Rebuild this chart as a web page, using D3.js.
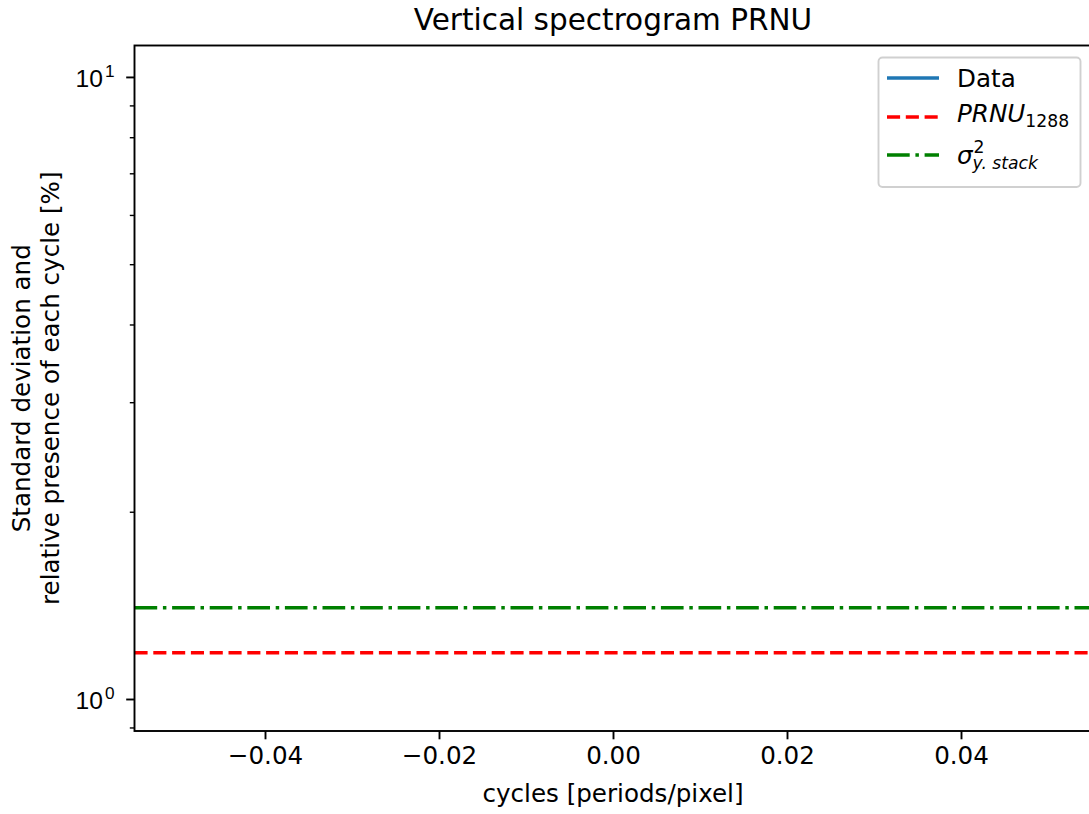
<!DOCTYPE html>
<html><head><meta charset="utf-8">
<script src="https://cdn.jsdelivr.net/npm/d3@7"></script>
<style>
html,body{margin:0;padding:0;background:#fff;}
svg{display:block;font-family:"DejaVu Sans",sans-serif;}
</style></head>
<body>
<script>
// ---- data ----
const xDomain = [-0.055, 0.055];
const yDomain = [0.8883, 11.234];
const xTicks = [-0.04, -0.02, 0.00, 0.02, 0.04];
const xTickLabels = ["\u22120.04", "\u22120.02", "0.00", "0.02", "0.04"];
const yMajorTicks = [1, 10];
const yMajorExp = ["0", "1"];
const yMinorTicks = [0.9, 2, 3, 4, 5, 6, 7, 8, 9];
const dataX = [];          // "Data" series: nothing visible in the plot
const dataY = [];
const prnuLevel = 1.187;   // PRNU_1288
const sigmaLevel = 1.402;  // sigma^2_y.stack

const W = 1089, H = 814;
const m = {left: 134.5, top: 45.5, right: 1091.5, bottom: 731};
const svg = d3.select("body").append("svg").attr("width", W).attr("height", H);

const x = d3.scaleLinear().domain(xDomain).range([m.left, m.right]);
const y = d3.scaleLog().domain(yDomain).range([m.bottom, m.top]);

svg.append("defs").append("clipPath").attr("id","clip")
  .append("rect").attr("x", m.left).attr("y", m.top).attr("width", m.right-m.left).attr("height", m.bottom-m.top);

const plot = svg.append("g").attr("clip-path","url(#clip)");
const line = d3.line().x(d=>x(d[0])).y(d=>y(d[1]));

plot.append("path").datum(dataX.map((v,i)=>[v,dataY[i]]))
  .attr("d", line).attr("fill","none").attr("stroke","#1f77b4").attr("stroke-width",3.5);
plot.append("path").datum([[xDomain[0],prnuLevel],[xDomain[1],prnuLevel]])
  .attr("d", line).attr("fill","none").attr("stroke","#ff0000").attr("stroke-width",3.5)
  .attr("stroke-dasharray","13.1,5.7");
plot.append("path").datum([[xDomain[0],sigmaLevel],[xDomain[1],sigmaLevel]])
  .attr("d", line).attr("fill","none").attr("stroke","#008000").attr("stroke-width",3.5)
  .attr("stroke-dasharray","22.7,5.7,3.5,5.7");

// axes
const fs = 24.6;
const xAxis = d3.axisBottom(x).tickValues(xTicks).tickSize(8.3).tickPadding(7)
  .tickFormat((d,i)=>xTickLabels[i]);
const gx = svg.append("g").attr("transform",`translate(0,${m.bottom})`).call(xAxis);
gx.select(".domain").remove();
gx.selectAll(".tick line").attr("stroke","#000").attr("stroke-width",1.9);
gx.selectAll(".tick text").attr("font-size",fs).attr("fill","#000").attr("font-family","DejaVu Sans");

const gy = svg.append("g").attr("transform",`translate(${m.left},0)`);
gy.call(d3.axisLeft(y).tickValues(yMinorTicks).tickSize(4.7).tickFormat(""));
gy.selectAll(".tick line").attr("stroke","#000").attr("stroke-width",1.4);
const gy2 = svg.append("g").attr("transform",`translate(${m.left},0)`)
  .call(d3.axisLeft(y).tickValues(yMajorTicks).tickSize(8.3).tickFormat(""));
gy2.selectAll(".tick line").attr("stroke","#000").attr("stroke-width",1.9);
gy.select(".domain").remove(); gy2.select(".domain").remove();
gy2.selectAll(".tick").each(function(d,i){
  const t = d3.select(this).append("text").attr("x",-20).attr("y",9.5)
    .attr("text-anchor","end").attr("font-size",fs).attr("fill","#000");
  t.append("tspan").text("10");
  t.append("tspan").attr("dx",2).attr("dy",-10).attr("font-size",fs*0.7).text(yMajorExp[i]);
});

// frame
svg.append("rect").attr("x",m.left).attr("y",m.top).attr("width",m.right-m.left).attr("height",m.bottom-m.top)
  .attr("fill","none").attr("stroke","#000").attr("stroke-width",1.9);

// title & labels
svg.append("text").attr("x",(m.left+m.right)/2).attr("y",29.5).attr("text-anchor","middle")
  .attr("font-size",29.5).text("Vertical spectrogram PRNU");
svg.append("text").attr("x",(m.left+m.right)/2).attr("y",802).attr("text-anchor","middle")
  .attr("font-size",fs).text("cycles [periods/pixel]");
const yl = svg.append("text").attr("transform",`translate(30,${(m.top+m.bottom)/2}) rotate(-90)`)
  .attr("text-anchor","middle").attr("font-size",fs);
yl.append("tspan").attr("x",0).attr("dy",0).text("Standard deviation and");
yl.append("tspan").attr("x",0).attr("dy",28.5).text("relative presence of each cycle [%]");

// legend
const lg = svg.append("g");
lg.append("rect").attr("x",878.5).attr("y",57.5).attr("width",202).attr("height",129.5).attr("rx",4)
  .attr("fill","#fff").attr("fill-opacity",0.8).attr("stroke","#d0d0d0").attr("stroke-width",1.9);
const items = [
  {y:78, color:"#1f77b4", dash:null},
  {y:117, color:"#ff0000", dash:"13.1,5.7"},
  {y:155, color:"#008000", dash:"22.7,5.7,3.5,5.7"}
];
items.forEach(it=>{
  lg.append("line").attr("x1",887).attr("x2",939).attr("y1",it.y).attr("y2",it.y)
    .attr("stroke",it.color).attr("stroke-width",3.5).attr("stroke-dasharray",it.dash);
});
lg.append("text").attr("x",957).attr("y",87).attr("font-size",fs).text("Data");
const t2 = lg.append("text").attr("x",957).attr("y",122).attr("font-size",fs);
t2.append("tspan").attr("font-style","italic").text("PRNU");
t2.append("tspan").attr("font-size",fs*0.7).attr("dy",4.5).text("1288");
const t3 = lg.append("text").attr("x",957).attr("y",164).attr("font-size",fs);
t3.append("tspan").attr("font-style","italic").text("\u03c3");
t3.append("tspan").attr("font-size",fs*0.7).attr("dx",1).attr("dy",-11).text("2");
t3.append("tspan").attr("font-size",fs*0.7).attr("font-style","italic").attr("dx",-12).attr("dy",15.5).text("y. stack");
</script>
</body></html>
